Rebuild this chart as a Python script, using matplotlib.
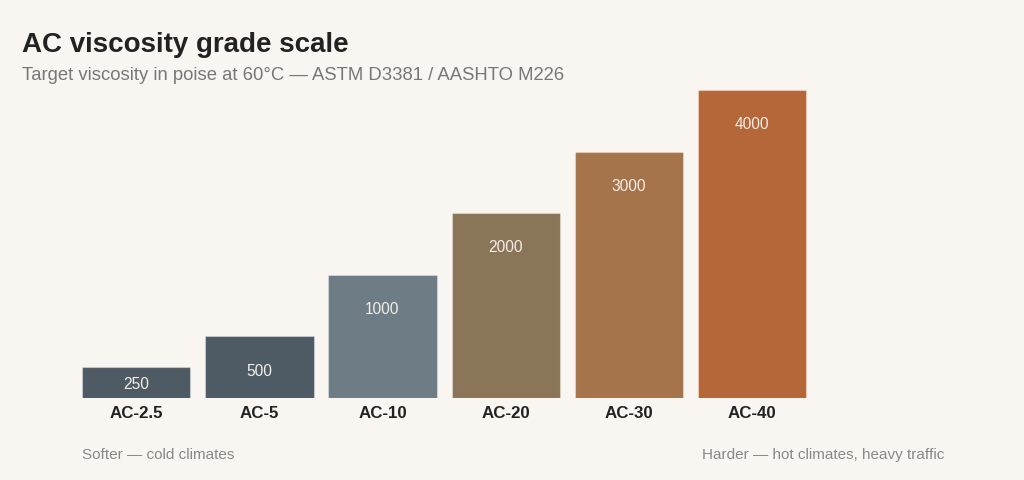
import numpy as np
import matplotlib
matplotlib.use("Agg")
import matplotlib.pyplot as plt

plt.rcParams['font.family'] = ['Liberation Sans', 'DejaVu Sans']

grades = ['AC-2.5', 'AC-5', 'AC-10', 'AC-20', 'AC-30', 'AC-40']
viscosity = [250, 500, 1000, 2000, 3000, 4000]
colors = ['#4f5b64', '#4f5b64', '#6e7c86', '#8a7558', '#a6744a', '#b5673a']

# the chart uses a piecewise (polylinear) value scale
scale_knots = [0, 500, 1000, 2000, 3000, 4000]
scale_steps = [0, 1, 2, 3, 4, 5]

bg = '#f9f6f1'


def fwd(v):
    return np.interp(v, scale_knots, scale_steps)


def inv(s):
    return np.interp(s, scale_steps, scale_knots)


fig = plt.figure(figsize=(10.24, 4.8), dpi=100, facecolor=bg)
ax = fig.add_axes([82 / 1024, 1 - 398 / 480, 861 / 1024, 308 / 480])
ax.set_facecolor(bg)
ax.set_yscale('function', functions=(fwd, inv))

x = np.arange(len(grades))
ax.bar(x, viscosity, width=0.88, color=colors, edgecolor='#ffffff55', linewidth=0.8)
ax.set_xlim(-0.44, 6.55)
ax.set_ylim(0, 4000)

for i, v in enumerate(viscosity):
    if fwd(v) < 0.8:
        ax.annotate(str(v), (i, 0), xytext=(0, 9.5), textcoords='offset points',
                    ha='center', va='center', color='#f3eee6', fontsize=11.2)
    else:
        ax.annotate(str(v), (i, v), xytext=(0, -25), textcoords='offset points',
                    ha='center', va='center', color='#f3eee6', fontsize=11.2)
    ax.annotate(grades[i], (i, 0), xytext=(0, -11.5), textcoords='offset points',
                ha='center', va='center', color='#222222', fontsize=12.2,
                fontweight='bold')

ax.set_xticks([])
ax.set_yticks([])
for s in ax.spines.values():
    s.set_visible(False)

fig.text(22 / 1024, 1 - 45 / 480, 'AC viscosity grade scale', fontsize=20,
         fontweight='bold', color='#222222', va='center', ha='left')
fig.text(22 / 1024, 1 - 76 / 480,
         'Target viscosity in poise at 60°C — ASTM D3381 / AASHTO M226',
         fontsize=13.3, color='#777777', va='center', ha='left')
fig.text(82 / 1024, 1 - 455 / 480, 'Softer — cold climates', fontsize=11,
         color='#888888', va='center', ha='left')
fig.text(944 / 1024, 1 - 455 / 480, 'Harder — hot climates, heavy traffic',
         fontsize=11, color='#888888', va='center', ha='right')

fig.savefig('out.png', dpi=100, facecolor=bg)
